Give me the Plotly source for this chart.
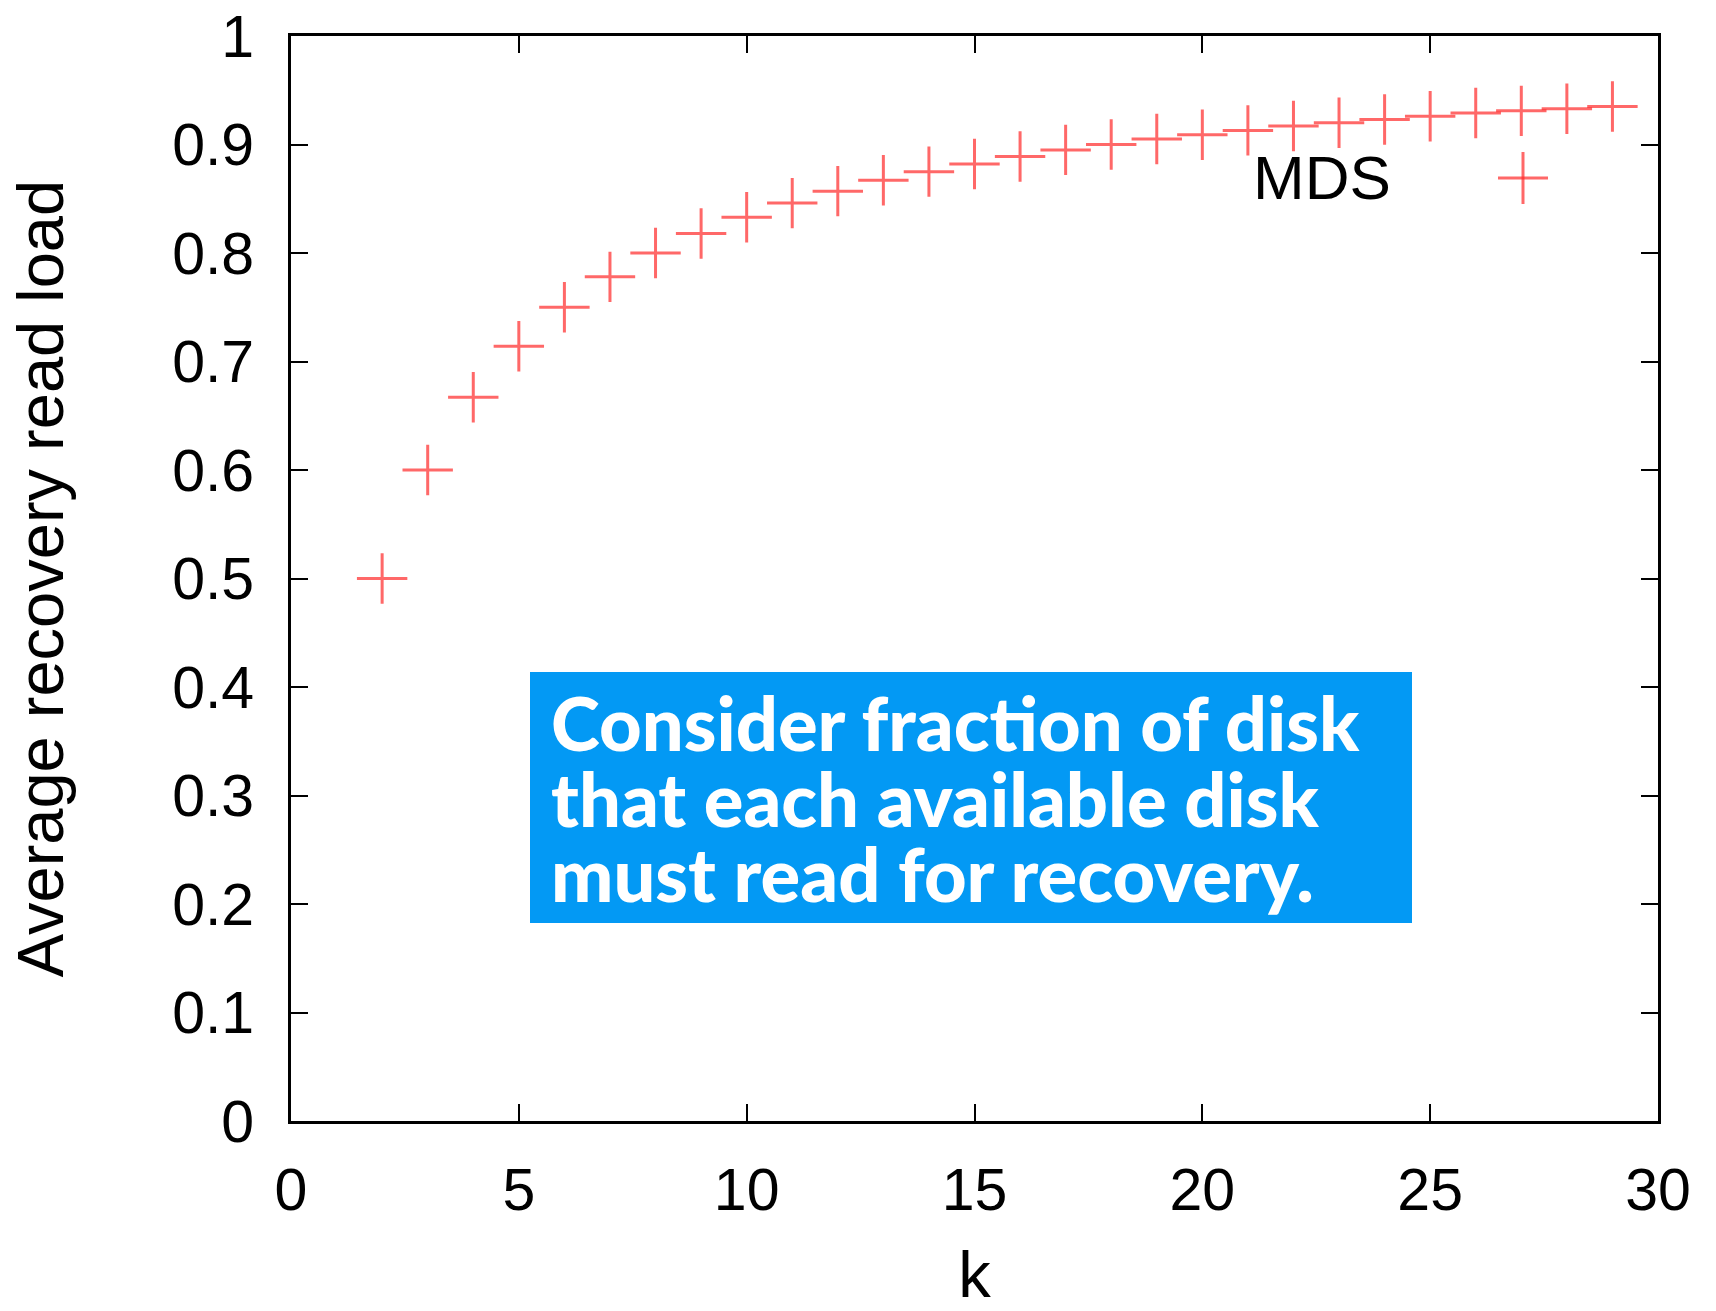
import plotly.graph_objects as go

# data
k_values = [2, 3, 4, 5, 6, 7, 8, 9, 10, 11, 12, 13, 14, 15, 16, 17, 18, 19,
            20, 21, 22, 23, 24, 25, 26, 27, 28, 29]
read_load = [0.5, 0.6, 0.667, 0.714, 0.75, 0.778, 0.8, 0.818, 0.833, 0.846,
             0.857, 0.867, 0.875, 0.882, 0.889, 0.895, 0.9, 0.905, 0.909,
             0.913, 0.917, 0.92, 0.923, 0.926, 0.929, 0.931, 0.933, 0.935]
series_name = "MDS"
x_ticks = [0, 5, 10, 15, 20, 25, 30]
y_ticks = [0, 0.1, 0.2, 0.3, 0.4, 0.5, 0.6, 0.7, 0.8, 0.9, 1]
y_tick_text = ["0", "0.1", "0.2", "0.3", "0.4", "0.5", "0.6", "0.7", "0.8", "0.9", "1"]
box_lines = ["Consider fraction of disk",
             "that each available disk",
             "must read for recovery."]

W, H = 1716, 1311
L, R, T, B = 291, 58, 36, 190
PW, PH = W - L - R, H - T - B

def px(x):
    return (x - L) / PW

def py(y):
    return (H - B - y) / PH

MARK = "rgba(255,40,40,0.7)"
FONT = "Liberation Sans, Arial, sans-serif"

fig = go.Figure()
fig.add_trace(go.Scatter(
    x=k_values, y=read_load, mode="markers", name=series_name,
    marker=dict(symbol="cross-thin", size=36,
                line=dict(color=MARK, width=3), color=MARK),
    showlegend=False,
))

axis_common = dict(
    showline=True, mirror="ticks", linecolor="black", linewidth=3,
    ticks="inside", ticklen=17, tickwidth=2, tickcolor="black",
    showgrid=False, zeroline=False,
    tickfont=dict(family=FONT, size=59, color="black"),
)

fig.update_xaxes(range=[0, 30], tickvals=x_ticks, ticklabelstandoff=15,
                 title=dict(text="k", font=dict(family=FONT, size=65, color="black"),
                            standoff=37),
                 **axis_common)
fig.update_yaxes(range=[0, 1], tickvals=y_ticks, ticktext=y_tick_text,
                 ticklabelstandoff=22,
                 title=dict(text="Average recovery read load",
                            font=dict(family=FONT, size=65, color="black"),
                            standoff=88),
                 **axis_common)

# legend key (gnuplot style: text then sample)
fig.add_annotation(xref="paper", yref="paper", x=px(1393), y=py(177),
                   xanchor="right", yanchor="middle", showarrow=False,
                   text=series_name,
                   font=dict(family=FONT, size=62, color="black"))
cx, cy = px(1523), py(178)
hw, hh = 25 / PW, 26 / PH
fig.add_shape(type="line", xref="paper", yref="paper", x0=cx - hw, x1=cx + hw,
              y0=cy, y1=cy, line=dict(color=MARK, width=3))
fig.add_shape(type="line", xref="paper", yref="paper", x0=cx, x1=cx,
              y0=cy - hh, y1=cy + hh, line=dict(color=MARK, width=3))

# blue callout box
fig.add_shape(type="rect", xref="paper", yref="paper",
              x0=px(530), x1=px(1412), y0=py(923), y1=py(672),
              fillcolor="#0399F4", line=dict(width=0), layer="above")
for i, line in enumerate(box_lines):
    fig.add_annotation(xref="paper", yref="paper", x=px(549), y=py(722 + 76 * i),
                       xanchor="left", yanchor="middle", showarrow=False,
                       text=line,
                       font=dict(family="Lato, sans-serif", size=74, color="white",
                                 weight=900))

fig.update_layout(
    width=W, height=H,
    margin=dict(l=L, r=R, t=T, b=B, autoexpand=False),
    paper_bgcolor="white", plot_bgcolor="white",
)

fig.write_html("out.html")
